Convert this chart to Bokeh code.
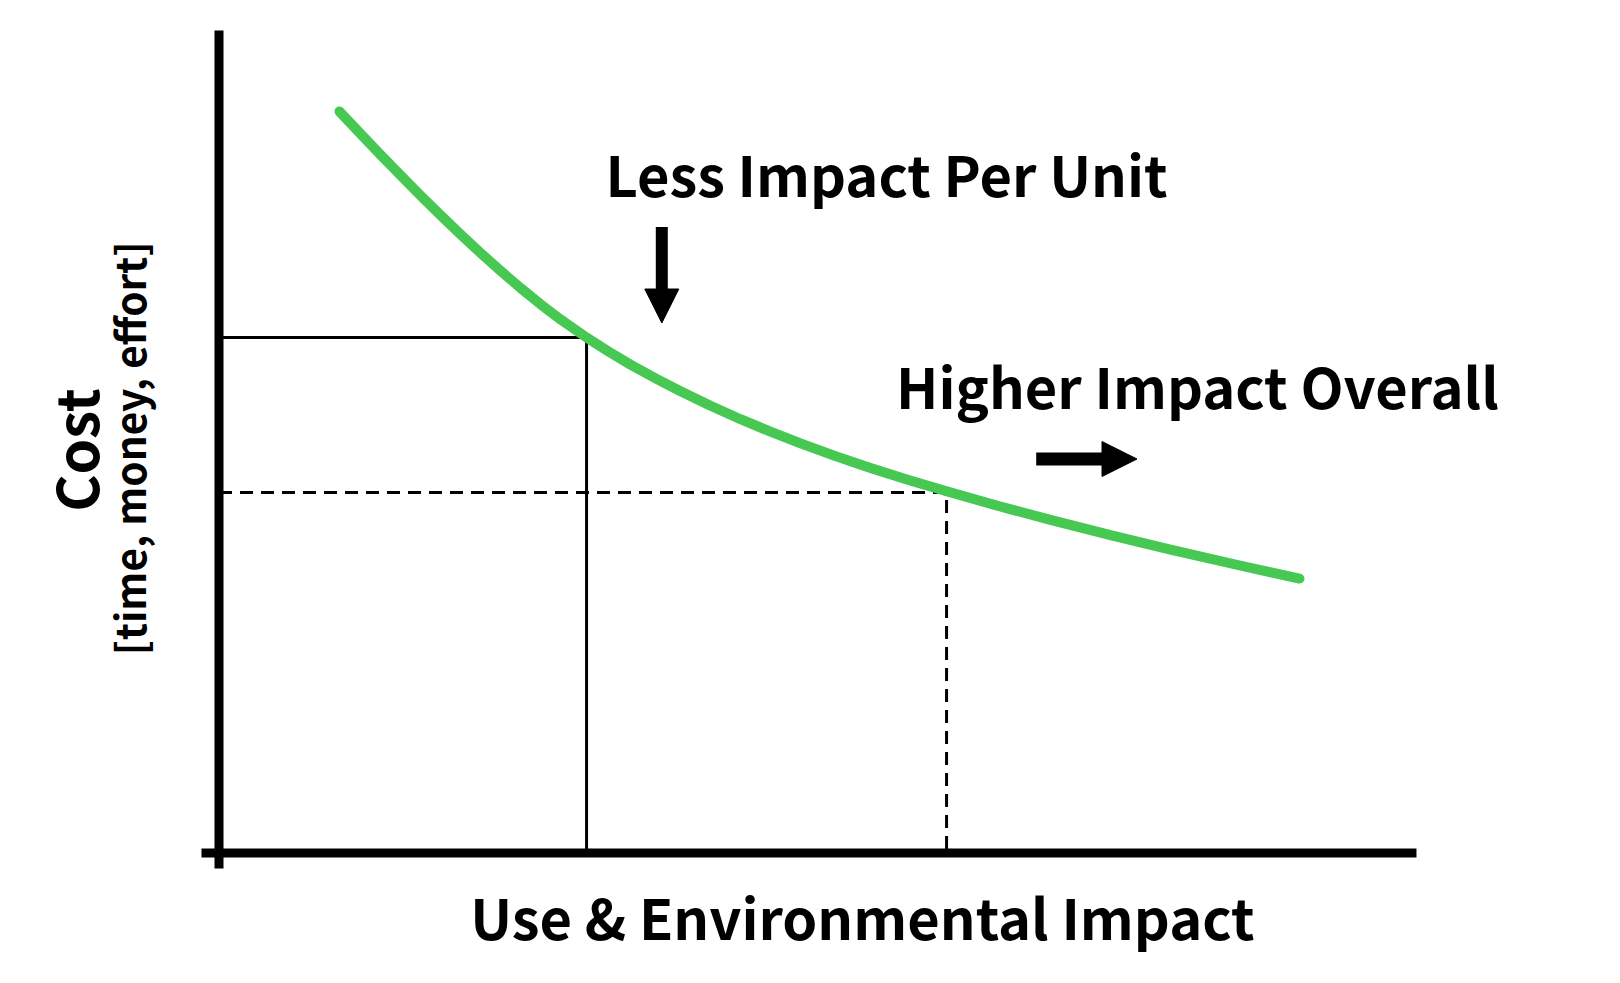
import numpy as np
from bokeh.plotting import figure
from bokeh.models import Label, Arrow, NormalHead, Range1d
from bokeh.embed import file_html
from bokeh.resources import INLINE

# ---- data ----
use = [1.004, 1.179, 1.346, 1.513, 1.679, 1.846, 2.013, 2.179, 2.346, 2.513, 2.679,
       2.846, 3.063, 3.246, 3.429, 3.638, 3.846, 4.096, 4.346, 4.596, 4.846, 5.138,
       5.429, 5.746, 6.063, 6.496, 6.929, 7.429, 7.929, 8.471, 9.004]
cost = [7.415, 7.192, 6.983, 6.778, 6.576, 6.379, 6.187, 6.001, 5.822, 5.650, 5.488,
        5.336, 5.155, 5.015, 4.884, 4.746, 4.617, 4.472, 4.338, 4.213, 4.096, 3.969,
        3.851, 3.731, 3.617, 3.470, 3.331, 3.179, 3.034, 2.885, 2.744]

box_use = 3.063     # solid reference box
box_cost = 5.155
dash_use = 6.063    # dashed reference box
dash_cost = 3.605

x_label = "Use & Environmental Impact"
y_label = "Cost"
y_sub = "[time, money, effort]"
note_down = "Less Impact Per Unit"
note_right = "Higher Impact Overall"

FONT = "Noto Sans CJK KR"
GREEN = "#46c853"

W, H = 1604, 967
X0 = -218.5 / 120.0
Y1 = 852.5 / 100.0
p = figure(width=W, height=H, output_backend="svg", toolbar_location=None,
           x_range=Range1d(X0, X0 + W / 120.0),
           y_range=Range1d(Y1 - H / 100.0, Y1),
           x_axis_type=None, y_axis_type=None, min_border=0)
p.outline_line_color = None
p.grid.visible = False
p.background_fill_color = "white"
p.border_fill_color = "white"

# axes
p.line([0, 0], [-0.155, 8.225], line_width=9, line_color="black")
p.line([-0.146, 9.979], [0, 0], line_width=9, line_color="black")

# reference boxes
p.line([0, box_use, box_use], [box_cost, box_cost, 0], line_width=3, line_color="black")
p.line([0, dash_use, dash_use], [dash_cost, dash_cost, 0], line_width=3,
       line_color="black", line_dash="13 8")

# curve
p.line(use, cost, line_width=10, line_color=GREEN, line_cap="round", line_join="round")

# arrows
p.add_layout(Arrow(end=NormalHead(size=34, fill_color="black", line_color="black", line_width=1),
                   x_start=3.69, y_start=6.26, x_end=3.69, y_end=5.30,
                   line_width=12, line_color="black"))
p.add_layout(Arrow(end=NormalHead(size=35, fill_color="black", line_color="black", line_width=1),
                   x_start=6.81, y_start=3.94, x_end=7.65, y_end=3.94,
                   line_width=13, line_color="black"))

# texts
def lab(x, y, t, size, angle=0.0):
    p.add_layout(Label(x=x, y=y, text=t, text_font=FONT, text_font_size=size,
                       text_font_style="bold", text_align="center",
                       text_baseline="alphabetic", text_color="black", angle=angle))

lab(5.5625, 6.805, note_down, "56px")
lab(8.154, 4.681, note_right, "56px")
lab(5.3625, -0.627, x_label, "56px")
lab(-1.208, 4.03, y_label, "57px", np.pi / 2)
lab(-0.756, 4.046, y_sub, "40.5px", np.pi / 2)

open("out.html", "w").write(file_html(p, INLINE))
